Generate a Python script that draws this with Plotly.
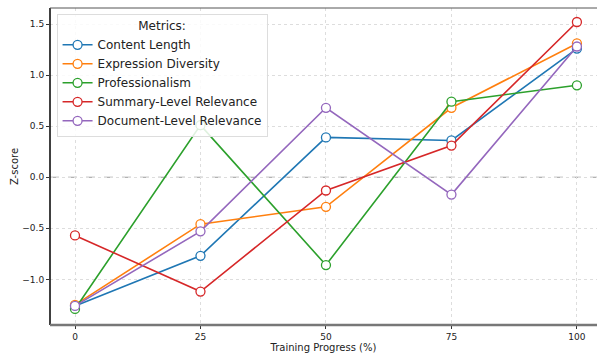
import plotly.graph_objects as go

progress = [0, 25, 50, 75, 100]
series_names = ["Content Length", "Expression Diversity", "Professionalism",
                "Summary-Level Relevance", "Document-Level Relevance"]
content_length = [-1.26, -0.77, 0.39, 0.36, 1.26]
expression_diversity = [-1.25, -0.46, -0.29, 0.68, 1.31]
professionalism = [-1.29, 0.51, -0.86, 0.74, 0.90]
summary_relevance = [-0.57, -1.12, -0.13, 0.31, 1.52]
document_relevance = [-1.26, -0.53, 0.68, -0.17, 1.28]
colors = ["#1f77b4", "#ff7f0e", "#2ca02c", "#d62728", "#9467bd"]
yticks = [-1.0, -0.5, 0.0, 0.5, 1.0, 1.5]
ytick_text = ["\u22121.0", "\u22120.5", "0.0", "0.5", "1.0", "1.5"]

all_series = [content_length, expression_diversity, professionalism,
              summary_relevance, document_relevance]

fig = go.Figure()
for name, vals, c in zip(series_names, all_series, colors):
    fig.add_trace(go.Scatter(
        x=progress, y=vals, mode="lines+markers", name=name,
        line=dict(color=c, width=1.6),
        marker=dict(symbol="circle", size=9, color="white",
                    line=dict(color=c, width=1.3)),
    ))

fig.add_shape(type="line", xref="paper", x0=0, x1=1, yref="y", y0=0, y1=0,
              line=dict(color="#999999", width=1.1, dash="dash"), layer="below")
# spines
fig.add_shape(type="line", xref="paper", yref="paper", x0=0, x1=0, y0=0, y1=1,
              line=dict(color="black", width=1.5))
fig.add_shape(type="line", xref="paper", yref="paper", x0=0, x1=1, y0=0, y1=0,
              line=dict(color="#777777", width=2.5))
fig.add_shape(type="line", xref="paper", yref="paper", x0=0, x1=1, y0=1, y1=1,
              line=dict(color="#555555", width=1))

fig.update_layout(
    width=597, height=354,
    margin=dict(l=50, r=0, t=8, b=29, autoexpand=False),
    plot_bgcolor="white", paper_bgcolor="white",
    font=dict(family="DejaVu Sans", color="#222222"),
    showlegend=True,
    legend=dict(
        title=dict(text="Metrics:", side="top center", font=dict(size=12)),
        x=0.012, y=0.982, xanchor="left", yanchor="top",
        bgcolor="rgba(255,255,255,0.85)", bordercolor="#dddddd", borderwidth=1,
        font=dict(size=12), tracegroupgap=0, itemwidth=30,
    ),
    xaxis=dict(
        range=[-4.98, 104.0], tickvals=progress, ticktext=[str(p) for p in progress],
        showgrid=True, gridcolor="#dddddd", griddash="dot", gridwidth=1,
        zeroline=False, showline=False, ticks="outside", ticklen=3,
        tickcolor="#333333", tickfont=dict(size=9), automargin=False,
        title=dict(text="Training Progress (%)", font=dict(size=10), standoff=2),
    ),
    yaxis=dict(
        range=[-1.447, 1.657], tickvals=yticks, ticktext=ytick_text,
        showgrid=True, gridcolor="#dddddd", griddash="dot", gridwidth=1,
        zeroline=False, showline=False, ticks="outside", ticklen=3,
        tickcolor="#333333", tickfont=dict(size=9), automargin=False,
        title=dict(text="Z-score", font=dict(size=10), standoff=1),
    ),
)

fig.write_html("out.html", config={"displayModeBar": False},
               post_script="document.body.style.margin='0';document.body.style.padding='0';")
